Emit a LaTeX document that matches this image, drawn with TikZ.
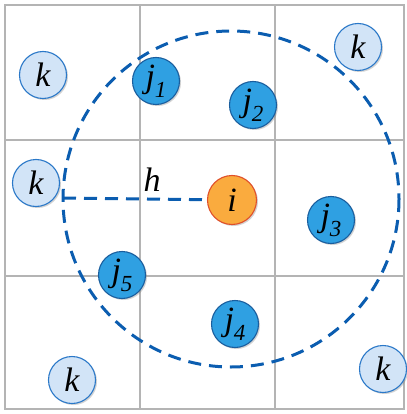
\documentclass[tikz,border=0pt]{standalone}
\usepackage{fontspec}
\setmainfont{Liberation Serif}
\usepackage{tikz}
\usetikzlibrary{shadows}

\definecolor{cellgray}{HTML}{B4B4B4}
\definecolor{ringblue}{HTML}{0B5DB0}
\definecolor{kfill}{HTML}{D2E4F7}
\definecolor{kline}{HTML}{2A78C8}
\definecolor{jfill}{HTML}{2FA0E2}
\definecolor{jline}{HTML}{1A5E9E}
\definecolor{ifill}{HTML}{FAAB3E}
\definecolor{iline}{HTML}{E0502A}

\newcommand{\jlab}[1]{\textit{j}\raisebox{-0.3em}{\fontsize{23}{25}\selectfont\textit{#1}}}

\begin{document}
\begin{tikzpicture}[x=1pt, y=-1pt,
  part/.style={circle, draw, line width=1.1pt, minimum size=47pt, inner sep=0pt,
    font=\fontsize{34}{36}\selectfont\itshape,
    drop shadow={shadow xshift=1.5pt, shadow yshift=-1.5pt, opacity=0.35}},
  far/.style={part, fill=kfill, draw=kline},
  near/.style={part, fill=jfill, draw=jline},
  centre/.style={part, fill=ifill, draw=iline, minimum size=49pt},
  cell/.style={cellgray, line width=1.8pt},
  ring/.style={ringblue, line width=3pt, dash pattern=on 13pt off 8pt},
]
  \useasboundingbox (0,0) rectangle (406,414);

  % cell grid
  \draw[cell] (5,5) rectangle (404,409);
  \draw[cell] (140,5) -- (140,409);
  \draw[cell] (275,5) -- (275,409);
  \draw[cell] (5,140) -- (404,140);
  \draw[cell] (5,276) -- (404,276);

  % cutoff radius
  \draw[ring] (231,199) circle (168);
  \coordinate (edge) at (63,198);

  \node[centre] (i) at (232,200) {i};
  \draw[ring] (edge) -- (i);
  \node[font=\fontsize{34}{36}\selectfont\itshape] (h) at (152,180) {h};

  % neighbours
  \node[near] (j1) at (156,81) {\jlab{1}};
  \node[near] (j2) at (253,105) {\jlab{2}};
  \node[near] (j3) at (331,220) {\jlab{3}};
  \node[near] (j4) at (235,324) {\jlab{4}};
  \node[near] (j5) at (122,275) {\jlab{5}};

  % outside cutoff
  \node[far] (k1) at (43,75) {k};
  \node[far] (k2) at (36,183) {k};
  \node[far] (k3) at (358,47) {k};
  \node[far] (k4) at (72,380) {k};
  \node[far] (k5) at (383,369) {k};
\end{tikzpicture}
\end{document}
